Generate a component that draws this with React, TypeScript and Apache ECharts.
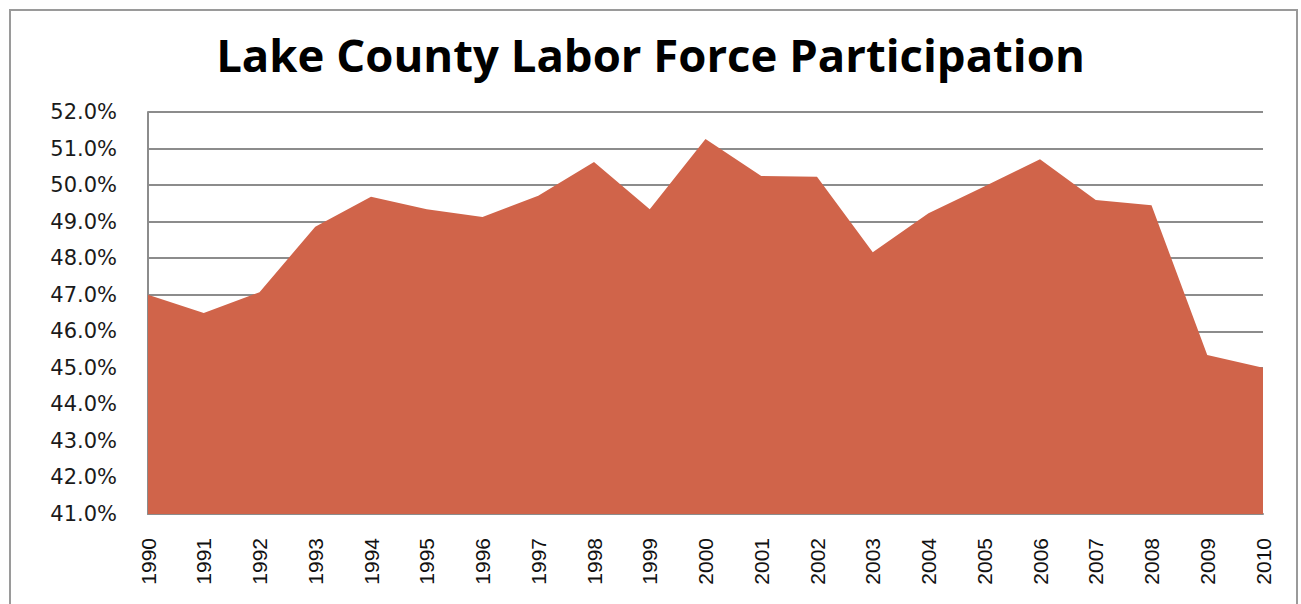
import React, { useEffect, useRef } from "react";
import * as echarts from "echarts";

const years = ["1990","1991","1992","1993","1994","1995","1996","1997","1998","1999","2000","2001","2002","2003","2004","2005","2006","2007","2008","2009","2010"];
const participation = [47.0, 46.5, 47.07, 48.86, 49.68, 49.34, 49.13, 49.71, 50.63, 49.34, 51.26, 50.25, 50.23, 48.16, 49.23, 49.96, 50.71, 49.59, 49.45, 45.35, 45.0];
const yMin = 41;
const yMax = 52;
const yStep = 1;
const titleText = "Lake County Labor Force Participation";

export default function App() {
  const ref = useRef<HTMLDivElement>(null);
  useEffect(() => {
    if (!ref.current) return;
    const chart = echarts.init(ref.current, null, { renderer: "svg" });
    chart.setOption({
      animation: false,
      backgroundColor: "#ffffff",
      title: {
        text: titleText,
        left: "center",
        top: 26,
        textStyle: { fontFamily: "Open Sans", fontWeight: "bold", fontSize: 45.5, color: "#000" },
      },
      graphic: [
        {
          type: "rect",
          shape: { x: 10, y: 10, width: 1287, height: 640 },
          style: { fill: "none", stroke: "#9a9a9a", lineWidth: 2 },
          silent: true,
        },
      ],
      grid: { left: 148, right: 38, top: 112, bottom: 90, containLabel: false },
      xAxis: {
        type: "category",
        data: years,
        boundaryGap: false,
        axisLine: { lineStyle: { color: "#8c8c8c", width: 2 } },
        axisTick: { show: false },
        axisLabel: {
          rotate: 90,
          margin: 24,
          fontFamily: "Liberation Sans",
          fontSize: 21,
          color: "#111",
          interval: 0,
        },
      },
      yAxis: {
        type: "value",
        min: yMin,
        max: yMax,
        interval: yStep,
        axisLine: { show: true, lineStyle: { color: "#8c8c8c", width: 2 } },
        axisTick: { show: false },
        splitLine: { lineStyle: { color: "#8c8c8c", width: 2 } },
        axisLabel: {
          margin: 31,
          fontFamily: "DejaVu Sans",
          fontSize: 21,
          color: "#1a1a1a",
          formatter: (v: number) => `${v.toFixed(1)}%`,
        },
      },
      series: [
        {
          type: "line",
          data: participation,
          symbol: "none",
          lineStyle: { width: 0 },
          areaStyle: { color: "#D0644A", opacity: 1, origin: "start" },
          itemStyle: { color: "#D0644A" },
        },
      ],
    });
    return () => chart.dispose();
  }, []);
  return (
    <div
      ref={ref}
      style={{ position: "fixed", left: 0, top: 0, width: 1301, height: 604 }}
    />
  );
}
